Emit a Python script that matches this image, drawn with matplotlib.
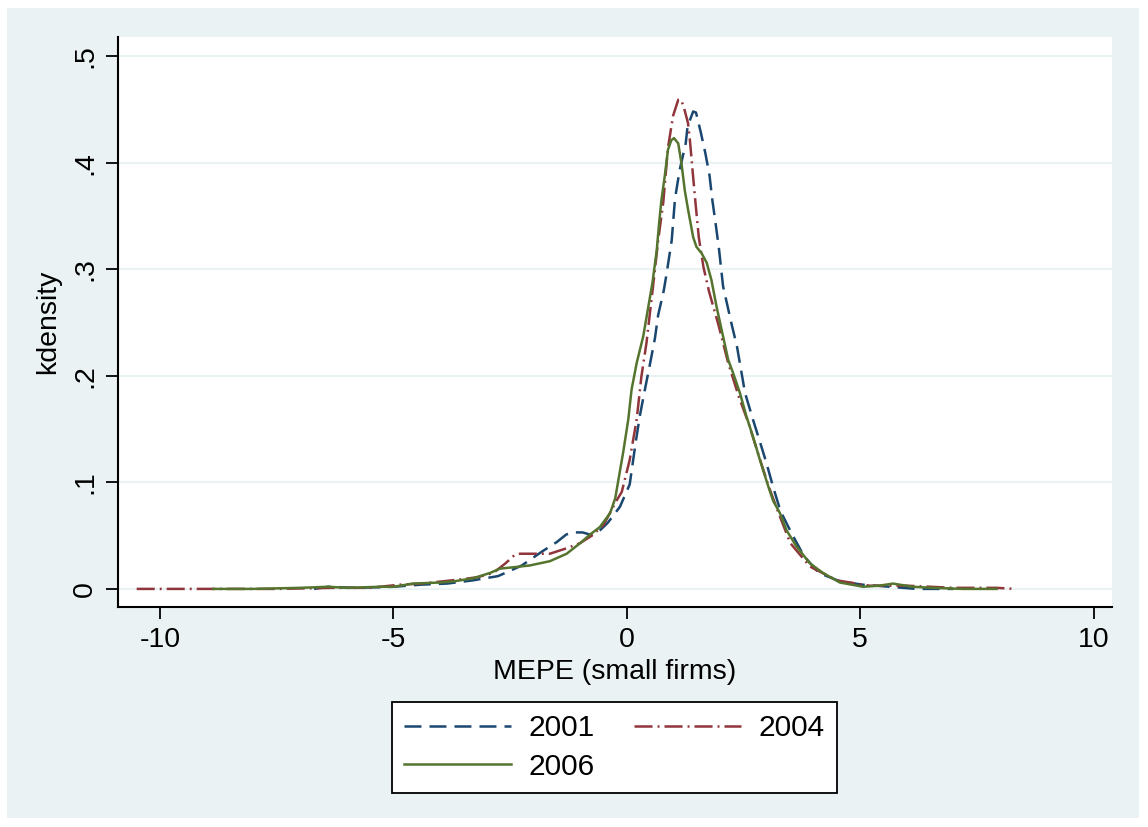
import matplotlib
matplotlib.use("Agg")
import matplotlib.pyplot as plt
from matplotlib.patches import Rectangle

plt.rcParams['font.family'] = ['Liberation Sans', 'DejaVu Sans']
plt.rcParams['lines.scale_dashes'] = False
plt.rcParams['axes.unicode_minus'] = False

# kernel density estimates of MEPE for small firms, by year
x_2001 = [-6.7, -6.4, -5.8, -5.0, -4.4, -3.85, -3.3, -2.76, -2.5, -2.25, -1.82, -1.5, -1.3,
          -1.16, -0.95, -0.79, -0.6, -0.41, -0.15, 0.06, 0.19, 0.28, 0.39, 0.49, 0.6, 0.67,
          0.79, 0.84, 0.96, 1.03, 1.13, 1.26, 1.3, 1.42, 1.48, 1.58, 1.68, 1.77, 1.83, 1.9,
          1.97, 2.06, 2.24, 2.36, 2.53, 2.7, 2.85, 2.99, 3.13, 3.29, 3.53, 3.79, 4.11, 4.57,
          5.04, 5.63, 6.2, 7.0]
y_2001 = [0.0, 0.002, 0.001, 0.002, 0.004, 0.005, 0.008, 0.012, 0.017, 0.022, 0.035, 0.044, 0.051,
          0.053, 0.053, 0.051, 0.054, 0.062, 0.077, 0.098, 0.138, 0.163, 0.188, 0.21, 0.235, 0.257,
          0.28, 0.293, 0.327, 0.366, 0.393, 0.418, 0.434, 0.448, 0.447, 0.429, 0.409, 0.388, 0.365, 0.343,
          0.32, 0.284, 0.249, 0.227, 0.184, 0.159, 0.138, 0.118, 0.096, 0.073, 0.052, 0.031, 0.015, 0.007,
          0.004, 0.002, 0.0, 0.0]

x_2004 = [-10.5, -9.0, -7.5, -6.3, -5.5, -4.86, -4.4, -3.54, -3.2, -2.86, -2.6, -2.4, -2.29, -1.95,
          -1.65, -1.3, -1.0, -0.75, -0.5, -0.22, -0.11, 0.06, 0.21, 0.31, 0.42, 0.56, 0.67, 0.78,
          0.88, 0.99, 1.1, 1.16, 1.22, 1.31, 1.35, 1.41, 1.47, 1.54, 1.64, 1.76, 1.96, 2.17, 2.4,
          2.61, 2.81, 3.03, 3.25, 3.5, 3.92, 4.5, 5.2, 6.0, 7.0, 7.92, 8.3]
y_2004 = [0.0, 0.0, 0.0, 0.001, 0.001, 0.004, 0.005, 0.009, 0.011, 0.015, 0.024, 0.032, 0.033, 0.033,
          0.033, 0.038, 0.043, 0.05, 0.06, 0.083, 0.091, 0.121, 0.159, 0.199, 0.231, 0.284, 0.327, 0.363,
          0.414, 0.444, 0.459, 0.459, 0.452, 0.437, 0.421, 0.391, 0.362, 0.33, 0.302, 0.279, 0.248, 0.212, 0.18,
          0.155, 0.127, 0.097, 0.071, 0.043, 0.021, 0.008, 0.003, 0.003, 0.001, 0.001, 0.0]

x_2006 = [-8.86, -8.0, -7.0, -6.4, -6.0, -5.29, -5.0, -4.58, -4.0, -3.72, -3.29, -2.93, -2.72, -2.5,
          -2.08, -1.65, -1.29, -1.0, -0.79, -0.58, -0.36, -0.25, -0.08, 0.03, 0.10, 0.21, 0.35, 0.46,
          0.55, 0.64, 0.69, 0.74, 0.81, 0.88, 0.95, 1.01, 1.1, 1.17, 1.24, 1.31, 1.42, 1.49, 1.6, 1.71,
          1.81, 1.92, 2.06, 2.17, 2.28, 2.42, 2.56, 2.7, 2.85, 3.03, 3.13, 3.28, 3.42, 3.63, 3.92, 4.2,
          4.56, 5.06, 5.4, 5.7, 6.12, 6.55, 7.2, 7.92]
y_2006 = [0.0, 0.0, 0.001, 0.002, 0.001, 0.002, 0.002, 0.005, 0.006, 0.007, 0.01, 0.015, 0.019, 0.02,
          0.022, 0.026, 0.033, 0.043, 0.051, 0.058, 0.071, 0.085, 0.128, 0.159, 0.187, 0.212, 0.237, 0.265,
          0.288, 0.318, 0.343, 0.365, 0.387, 0.412, 0.421, 0.423, 0.418, 0.399, 0.374, 0.356, 0.33, 0.321, 0.315, 0.306,
          0.29, 0.265, 0.237, 0.215, 0.202, 0.184, 0.162, 0.143, 0.121, 0.096, 0.083, 0.071, 0.055, 0.04, 0.024, 0.015,
          0.006, 0.002, 0.003, 0.005, 0.002, 0.001, 0.0, 0.0]

x_ticks = [-10, -5, 0, 5, 10]
y_ticks = [0, 0.1, 0.2, 0.3, 0.4, 0.5]
y_tick_labels = ["0", ".1", ".2", ".3", ".4", ".5"]

fig = plt.figure(figsize=(11.48, 8.27), dpi=100)
fig.patch.set_facecolor("white")
fig.patches.append(Rectangle((0.0061, 0.0109), 0.986, 0.979, transform=fig.transFigure,
                             facecolor="#eaf2f3", edgecolor="none", zorder=-10))

ax = fig.add_axes([0.1028, 0.266, 0.8658, 0.6894])
ax.set_facecolor("white")

l01, = ax.plot(x_2001, y_2001, color="#1a476f", lw=1.8, linestyle=(0, (12.2, 5.8)), label="2001")
l04, = ax.plot(x_2004, y_2004, color="#90353b", lw=1.8, linestyle=(0, (13, 3.6, 1.4, 3.6)), label="2004")
l06, = ax.plot(x_2006, y_2006, color="#55752f", lw=1.8, label="2006")

ax.set_xlim(-10.9, 10.39)
ax.set_ylim(-0.017, 0.518)
ax.set_xticks(x_ticks)
ax.set_yticks(y_ticks)
ax.set_yticklabels(y_tick_labels, rotation=90, va="center")
ax.grid(axis="y", color="#eaf2f3", lw=1.6)
ax.set_axisbelow(True)

for side in ["top", "right"]:
    ax.spines[side].set_visible(False)
for side in ["left", "bottom"]:
    ax.spines[side].set_linewidth(1.5)
ax.tick_params(axis="both", length=8.5, width=1.3, labelsize=20.5, pad=6, color="black")

ax.set_xlabel("MEPE (small firms)", fontsize=20.5, labelpad=4)
ax.set_ylabel("kdensity", fontsize=20.5, labelpad=8)

# legend filled row by row: 2001, 2004 / 2006
leg = ax.legend([l01, l06, l04], ["2001", "2006", "2004"], loc="center",
                bbox_to_anchor=(0.5353, 0.0961), bbox_transform=fig.transFigure,
                ncol=2, fontsize=21.5, frameon=True, fancybox=False, framealpha=1,
                handlelength=3.57, handletextpad=0.6, columnspacing=1.3,
                borderpad=0.42, labelspacing=0.35, borderaxespad=0)
leg.get_frame().set_edgecolor("black")
leg.get_frame().set_linewidth(1.3)

fig.savefig("out.png", dpi=100, facecolor=fig.get_facecolor())
